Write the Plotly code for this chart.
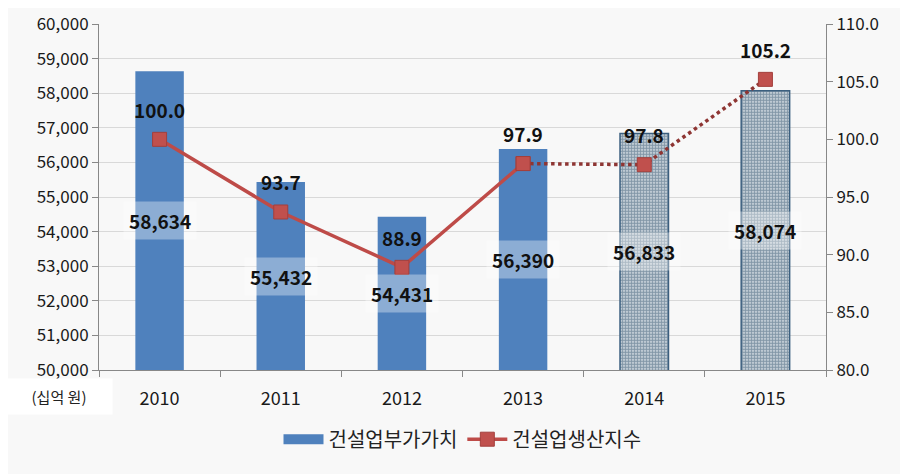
import plotly.graph_objects as go

years = ["2010", "2011", "2012", "2013", "2014", "2015"]
value_added = [58634, 55432, 54431, 56390, 56833, 58074]
prod_index = [100.0, 93.7, 88.9, 97.9, 97.8, 105.2]
bar_name = "건설업부가가치"
line_name = "건설업생산지수"
unit_label = "(십억 원)"

font_kr = "Noto Sans CJK KR, Malgun Gothic, sans-serif"
blue = "#4F81BD"
red_line = "#BE4B48"
red_mark = "#C0504D"

fig = go.Figure()

# actual years: solid blue
fig.add_trace(go.Bar(
    x=years[:4], y=value_added[:4], name=bar_name, width=0.4,
    marker=dict(color=blue, line=dict(width=0)),
    showlegend=False, hoverinfo="skip",
))
# later years: hatched
fig.add_trace(go.Bar(
    x=years[4:], y=value_added[4:], showlegend=False, width=0.4,
    marker=dict(
        color="white", line=dict(color="#3B5F7F", width=1.5),
        pattern=dict(shape=".", fgcolor="#244562", bgcolor="#E2E9EE",
                     size=3, solidity=0.7),
    ),
    hoverinfo="skip",
))
# legend entry for the bars: a wide flat swatch like the original
fig.add_trace(go.Scatter(
    x=[None], y=[None], name=bar_name, mode="lines",
    line=dict(color=blue, width=13),
))

# solid part of index line
fig.add_trace(go.Scatter(
    x=years[:4], y=prod_index[:4], yaxis="y2", name=line_name,
    mode="lines+markers",
    line=dict(color=red_line, width=3.5),
    marker=dict(symbol="square", size=14, color=red_mark, line=dict(color="#A33F3C", width=1)),
))
# dotted projection
fig.add_trace(go.Scatter(
    x=years[3:], y=prod_index[3:], yaxis="y2", showlegend=False,
    mode="lines+markers",
    line=dict(color="#8E3533", width=3.5, dash="dot"),
    marker=dict(symbol="square", size=14, color=red_mark, line=dict(color="#A33F3C", width=1)),
))

# numeric-looking category names would be read as indices by annotations,
# so place the labels by category index
for i, v in enumerate(value_added):
    fig.add_annotation(
        x=i, y=(50000 + v) / 2, text=f"{v:,}", showarrow=False,
        font=dict(family=font_kr, size=19, color="#111111", weight="bold"),
        bgcolor="rgba(255,255,255,0.35)", borderpad=5,
    )

for i, v in enumerate(prod_index):
    fig.add_annotation(
        x=i, y=v, yref="y2", yshift=30, text=f"{v:.1f}", showarrow=False,
        font=dict(family=font_kr, size=19, color="#111111", weight="bold"),
    )

fig.add_annotation(
    xref="paper", yref="paper", x=-0.055, y=-0.076,
    xanchor="center", yanchor="middle", text=unit_label,
    showarrow=False, font=dict(family=font_kr, size=15, color="#222222"),
    bgcolor="white", width=104, height=33, borderpad=1,
)

# page body adds an 8px offset, so the figure is 900x466
fig.update_layout(
    width=900, height=466,
    margin=dict(l=91, r=82, t=16, b=104, autoexpand=False),
    paper_bgcolor="#F8F8F8", plot_bgcolor="#F8F8F8",
    font=dict(family=font_kr, size=16, color="#1a1a1a"),
    barmode="overlay",
    showlegend=True,
    legend=dict(
        orientation="h", x=0.5, xanchor="center", y=-0.2, yanchor="middle",
        font=dict(family=font_kr, size=20, color="#222222"),
        bgcolor="rgba(0,0,0,0)", itemwidth=40,
    ),
    xaxis=dict(
        type="category", categoryorder="array", categoryarray=years,
        range=[-0.5, 5.5], automargin=False,
        tickson="boundaries", ticks="outside", ticklen=6,
        tickcolor="#888888", showline=True, linecolor="#888888", linewidth=1,
        showgrid=False, tickfont=dict(size=18), ticklabelstandoff=12,
    ),
    yaxis=dict(
        range=[50000, 60000], dtick=1000, tickformat=",", ticks="outside",
        ticklen=6, tickcolor="#888888", showline=True, linecolor="#888888",
        gridcolor="#D9D9D9", gridwidth=1, zeroline=False, automargin=False,
        tickfont=dict(size=17),
    ),
    yaxis2=dict(
        range=[80, 110], dtick=5, tickformat=".1f", overlaying="y", side="right",
        ticks="outside", ticklen=6, tickcolor="#888888", showline=True,
        linecolor="#888888", showgrid=False, zeroline=False, automargin=False,
        tickfont=dict(size=17),
    ),
)

fig.write_html("out.html")
